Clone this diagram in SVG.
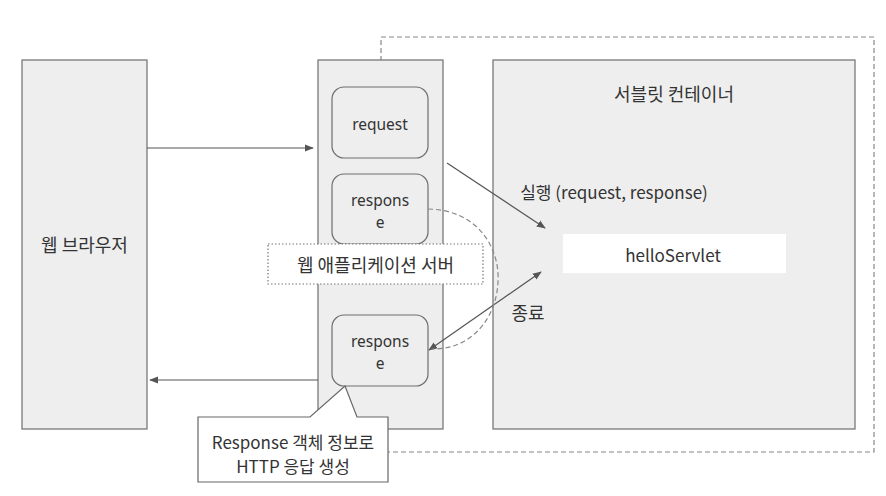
<svg xmlns="http://www.w3.org/2000/svg" width="886" height="496" viewBox="0 0 886 496">
<style>
text{font-family:"Noto Sans CJK KR","Noto Sans",sans-serif;font-size:17px;fill:#333;text-anchor:middle;dominant-baseline:central}
text.ko{font-size:18px}
text.lat{font-family:"Noto Sans",sans-serif;font-size:15.5px}
.box{fill:#eeeeee;stroke:#6e6e6e;stroke-width:1.2}
.rbox{fill:#eeeeee;stroke:#6e6e6e;stroke-width:1.2}
.ln{fill:none;stroke:#555;stroke-width:1.2}
.dash{fill:none;stroke:#888;stroke-width:1.2;stroke-dasharray:5 3}
</style>
<defs>
<marker id="ah" viewBox="0 0 10 10" refX="9" refY="5" markerWidth="9" markerHeight="9" markerUnits="userSpaceOnUse" orient="auto-start-reverse">
<path d="M0,1 L10,5 L0,9 Z" fill="#555"/>
</marker>
</defs>
<rect width="886" height="496" fill="#fff"/>
<g id="boundary">
<rect x="381" y="37" width="493" height="415" class="dash"/>
</g>
<g id="browser">
<rect x="22" y="60" width="125" height="369" class="box"/>
<text class="ko" x="84.5" y="244">웹 브라우저</text>
</g>
<g id="webserver">
<rect x="318" y="60" width="125" height="369" class="box"/>
</g>
<g id="container">
<rect x="493" y="60" width="362" height="369" class="box"/>
<text class="ko" x="674" y="93">서블릿 컨테이너</text>
</g>
<g id="helloServlet">
<rect x="563" y="234" width="223" height="39" fill="#fff"/>
<text x="673" y="254">helloServlet</text>
</g>
<g id="request">
<rect x="332" y="87" width="96" height="71" rx="12" class="rbox"/>
<text class="lat" x="380" y="124">request</text>
</g>
<g id="response1">
<rect x="332" y="174" width="96" height="70" rx="12" class="rbox"/>
<text class="lat" x="380" y="200">respons</text>
<text class="lat" x="380" y="222">e</text>
</g>
<g id="response2">
<rect x="332" y="315" width="96" height="71" rx="12" class="rbox"/>
<text class="lat" x="380" y="341">respons</text>
<text class="lat" x="380" y="363">e</text>
</g>
<g id="appserverLabel">
<rect x="268" y="244" width="215" height="40" fill="#fff" stroke="#777" stroke-width="1.2" stroke-dasharray="1.5 2"/>
<text class="ko" x="375.5" y="264">웹 애플리케이션 서버</text>
</g>
<g id="connectors">
<line x1="147" y1="148" x2="313" y2="148" class="ln" marker-end="url(#ah)"/>
<line x1="318" y1="380" x2="150" y2="380" class="ln" stroke="#777" stroke-width="1.5" marker-end="url(#ah)"/>
<line x1="447" y1="163" x2="545" y2="228" class="ln" marker-end="url(#ah)"/>
<line x1="429" y1="350" x2="541" y2="272" class="ln" marker-start="url(#ah)" marker-end="url(#ah)"/>
<path d="M428,209 C478,210 500,248 498,282 C496,322 468,350 432,349" class="dash" stroke="#777"/>
<text x="614" y="191">실행 (request, response)</text>
<text class="ko" x="528" y="312">종료</text>
</g>
<g id="callout">
<path d="M198,417 H310 L345,386 L357,417 H388 V482 H198 Z" fill="#fff" stroke="#666" stroke-width="1.2"/>
<text x="293" y="441">Response 객체 정보로</text>
<text x="293" y="465">HTTP 응답 생성</text>
</g>
</svg>
